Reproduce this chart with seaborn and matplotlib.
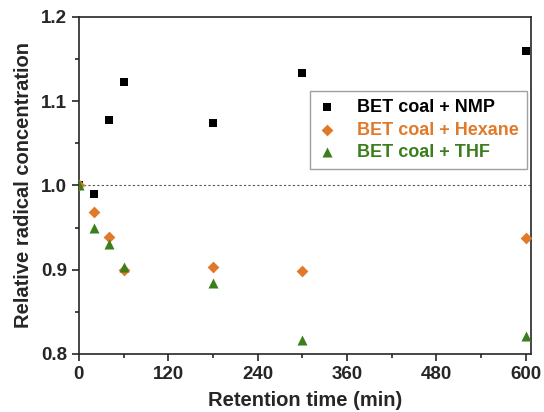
import pandas as pd
import seaborn as sns
import numpy as np
import matplotlib.pyplot as plt
from matplotlib.ticker import MultipleLocator

# values
time_min = [0, 20, 40, 60, 180, 300, 600]
nmp = [1.000, 0.990, 1.078, 1.123, 1.074, 1.133, 1.159]
hexane = [1.000, 0.969, 0.939, 0.900, 0.903, 0.898, 0.937]
thf = [1.000, 0.950, 0.930, 0.903, 0.884, 0.817, 0.821]
series_names = ["BET coal + NMP", "BET coal + Hexane", "BET coal + THF"]

colors = ["#000000", "#E07A2A", "#3C7D1C"]
markers = ["s", "D", "^"]
sizes = [36, 36, 52]

df = pd.DataFrame({
    "time": time_min * 3,
    "value": nmp + hexane + thf,
    "sample": np.repeat(series_names, len(time_min)),
})

sns.set_style("ticks")
plt.rcParams["font.family"] = ["Liberation Sans", "DejaVu Sans"]
plt.rcParams["font.weight"] = "bold"

fig = plt.figure(figsize=(5.44, 4.12), dpi=100)
ax = fig.add_axes([0.145, 0.141, 0.831, 0.818])

# THF is drawn last, it sits on top at t=0 in the original
for name, c, m, s in zip(series_names, colors, markers, sizes):
    sub = df[df["sample"] == name]
    sns.scatterplot(data=sub, x="time", y="value", color=c, marker=m, s=s,
                    linewidth=0, ax=ax, label=name, zorder=3)

ax.axhline(1.0, color="#555555", linestyle=(0, (2, 2)), linewidth=0.8, zorder=1)

ax.set_xlim(0, 607)
ax.set_ylim(0.8, 1.2)
ax.xaxis.set_major_locator(MultipleLocator(120))
ax.xaxis.set_minor_locator(MultipleLocator(60))
ax.yaxis.set_major_locator(MultipleLocator(0.1))
ax.yaxis.set_minor_locator(MultipleLocator(0.05))
ax.tick_params(axis="both", which="major", direction="out", length=5, width=1.2,
               labelsize=13.5)
ax.tick_params(axis="both", which="minor", direction="out", length=3, width=1.2)
for lbl in ax.get_xticklabels() + ax.get_yticklabels():
    lbl.set_fontweight("bold")
for sp in ax.spines.values():
    sp.set_linewidth(1.2)

ax.set_xlabel("Retention time (min)", fontsize=14.5, fontweight="bold", labelpad=6)
ax.set_ylabel("Relative radical concentration", fontsize=14.5, fontweight="bold",
              labelpad=6)

leg = ax.legend(loc="upper right", bbox_to_anchor=(1.012, 0.807), frameon=True,
                fancybox=False, edgecolor="#888888", handlelength=1.0,
                handletextpad=1.2, borderpad=0.45, labelspacing=0.3,
                borderaxespad=0.5, prop={"weight": "bold", "size": 13})
for txt, c in zip(leg.get_texts(), colors):
    txt.set_color(c)

fig.savefig("out.png", dpi=100)
